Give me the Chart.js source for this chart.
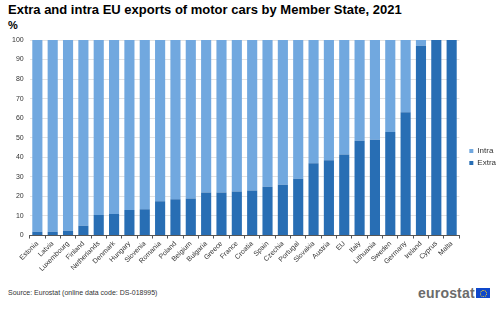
<!DOCTYPE html>
<html><head><meta charset="utf-8">
<script src="https://cdn.jsdelivr.net/npm/chart.js@4/dist/chart.umd.min.js"></script>
<style>
html,body{margin:0;padding:0;background:#fff;}
body{width:500px;height:332px;position:relative;overflow:hidden;font-family:"Liberation Sans",Arial,sans-serif;}
#title{position:absolute;left:8px;top:2px;font-size:13px;font-weight:bold;color:#000;white-space:nowrap;}
#unit{position:absolute;left:8px;top:19px;font-size:11px;font-weight:bold;color:#000;}
#wrap{position:absolute;left:0;top:28px;width:500px;height:246px;}
#src{position:absolute;left:8px;top:289px;font-size:7px;color:#333;}
#logo{position:absolute;left:418px;top:285px;font-size:14px;color:#6b6b6b;font-weight:bold;letter-spacing:0.2px;}
#flag{position:absolute;left:476px;top:288px;width:14px;height:10px;background:#0e47cb;}
#flag span{position:absolute;left:4px;top:2px;width:5px;height:5px;border:1px dotted #ffd617;border-radius:50%;}
</style></head>
<body>
<div id="title">Extra and intra EU exports of motor cars by Member State, 2021</div>
<div id="unit">%</div>
<div id="wrap"><canvas id="c"></canvas></div>
<div id="src">Source: Eurostat (online data code: DS-018995)</div>
<div id="logo">eurostat</div>
<div id="flag"><span></span></div>
<script>
const categories = ["Estonia","Latvia","Luxembourg","Finland","Netherlands","Denmark","Hungary","Slovenia","Romania","Poland","Belgium","Bulgaria","Greece","France","Croatia","Spain","Czechia","Portugal","Slovakia","Austria","EU","Italy","Lithuania","Sweden","Germany","Ireland","Cyprus","Malta"];
const extra = [2,2,2.5,5,10.5,11,13,13.5,17.5,18.5,19,22,22,22.5,23,25,26,29,37,38.5,41.5,48.5,49,53,63,97,100,100];
const intra = extra.map(v => +(100 - v).toFixed(1));
const yTicks = [0,10,20,30,40,50,60,70,80,90,100];

const shiftLegend = {
  id: 'shiftLegend',
  afterLayout(chart) {
    const lg = chart.legend;
    if (lg) { lg.left += 6; lg.right += 6; }
  }
};

new Chart(document.getElementById('c'), {
  type: 'bar',
  data: {
    labels: categories,
    datasets: [
      {label: 'Extra', data: extra, backgroundColor: '#286eb4', categoryPercentage: 0.66, barPercentage: 1},
      {label: 'Intra', data: intra, backgroundColor: '#71a8df', categoryPercentage: 0.66, barPercentage: 1}
    ]
  },
  plugins: [shiftLegend],
  options: {
    responsive: true, maintainAspectRatio: false, animation: false,
    layout: {padding: {left: 6, right: 0, top: 12, bottom: 0}},
    plugins: {
      legend: {position: 'right', reverse: true,
        labels: {boxWidth: 4, boxHeight: 4, padding: 4, font: {size: 8, family: '"Liberation Sans", Arial'}, color: '#333'}},
      tooltip: {enabled: false}
    },
    scales: {
      x: {stacked: true,
        grid: {display: true, drawOnChartArea: false, drawTicks: true, tickLength: 3, color: '#555', offset: true},
        border: {display: true, color: '#555'},
        ticks: {minRotation: 45, maxRotation: 45, font: {size: 7, family: '"Liberation Sans", Arial'}, color: '#333', padding: 1, autoSkip: false}
      },
      y: {stacked: true, min: 0, max: 100,
        afterBuildTicks: ax => { ax.ticks = yTicks.map(v => ({value: v})); },
        grid: {color: '#e3e3e3', drawTicks: false},
        border: {display: false},
        ticks: {font: {size: 7, family: '"Liberation Sans", Arial'}, color: '#333', padding: 6}
      }
    }
  }
});
</script>
</body></html>
